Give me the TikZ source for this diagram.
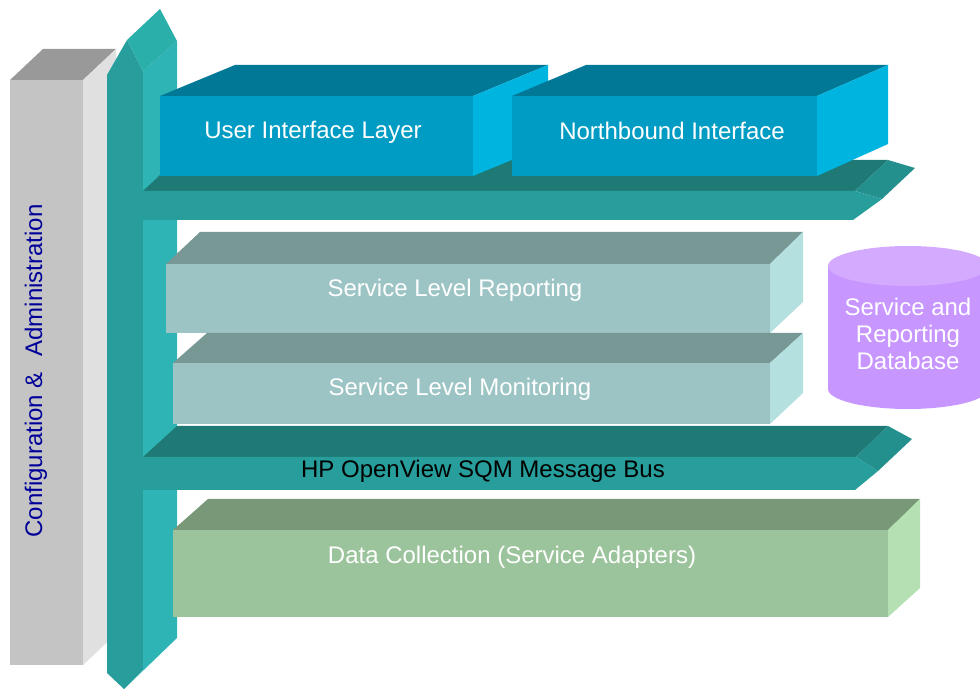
\documentclass[tikz,border=0pt]{standalone}
\usepackage{fontspec}
\setmainfont{Liberation Sans}
\definecolor{cfgfront}{HTML}{C4C4C4}
\definecolor{cfgtop}{HTML}{999999}
\definecolor{cfgside}{HTML}{E0E0E0}
\definecolor{cfgtext}{HTML}{000099}
\definecolor{barfront}{HTML}{279E9B}
\definecolor{barside}{HTML}{2EB4B4}
\definecolor{bartop}{HTML}{2AAFAB}
\definecolor{bustop}{HTML}{1F7A76}
\definecolor{bustip}{HTML}{24908D}
\definecolor{uifront}{HTML}{009CC4}
\definecolor{uitop}{HTML}{007896}
\definecolor{uiside}{HTML}{00B4E0}
\definecolor{slfront}{HTML}{9CC4C4}
\definecolor{sltop}{HTML}{789896}
\definecolor{slside}{HTML}{B4E0E0}
\definecolor{dcfront}{HTML}{9CC49C}
\definecolor{dctop}{HTML}{789878}
\definecolor{dcside}{HTML}{B4E0B4}
\definecolor{dbbody}{HTML}{C896FF}
\definecolor{dbtop}{HTML}{D4AAFF}
\begin{document}
\begin{tikzpicture}[x=0.5pt, y=-0.5pt,
	lbl/.style={text=white, font=\fontsize{12}{13.5}\selectfont, anchor=base, inner sep=0pt},
	cfglbl/.style={lbl, text=cfgtext, rotate=90}]
		\useasboundingbox (0,0) rectangle (980,689);
		\fill[cfgfront] (10,80) rectangle (83,665);
		\fill[cfgtop] (10,80) -- (43,49) -- (116,49) -- (83,80) -- cycle;
		\fill[cfgside] (83,80) -- (116,49) -- (116,634) -- (83,665) -- cycle;
		\node[cfglbl] (cfg) at (42,371) {Configuration \&\hspace{0.65em}Administration};
		\fill[barfront] (107,75) -- (127,40) -- (143,71) -- (143,670) -- (124,689) -- (107,673) -- cycle;
		\fill[barside] (143,71) -- (177,41) -- (177,638) -- (124,689) -- (143,670) -- cycle;
		\fill[bartop] (127,40) -- (160,9) -- (177,41) -- (143,71) -- cycle;
		\fill[bustop] (143,191) -- (176,160) -- (888,160) -- (855,191) -- cycle;
		\fill[bustip] (855,191) -- (888,160) -- (915,168) -- (882,199) -- cycle;
		\fill[barfront] (107,191) -- (855,191) -- (882,199) -- (853,220) -- (107,220) -- cycle;
		\fill[uitop] (160,96) -- (235,65) -- (548,65) -- (473,96) -- cycle;
		\fill[uiside] (473,96) -- (548,65) -- (548,145) -- (473,176) -- cycle;
		\fill[uifront] (160,96) rectangle (473,176);
		\node[lbl] (ui) at (313,139) {User Interface Layer};
		\fill[uitop] (512,96) -- (586,65) -- (888,65) -- (817,96) -- cycle;
		\fill[uiside] (817,96) -- (888,65) -- (888,144) -- (817,176) -- cycle;
		\fill[uifront] (512,96) rectangle (817,176);
		\node[lbl] (nb) at (672,140) {Northbound Interface};
		\fill[sltop] (166,264) -- (200,232) -- (803,232) -- (770,264) -- cycle;
		\fill[slside] (770,264) -- (803,232) -- (803,302) -- (770,333) -- cycle;
		\fill[slfront] (166,264) rectangle (770,333);
		\node[lbl] (slr) at (455,297) {Service Level Reporting};
		\fill[sltop] (173,363) -- (207,333) -- (803,333) -- (770,363) -- cycle;
		\fill[slside] (770,363) -- (803,333) -- (803,393) -- (770,424) -- cycle;
		\fill[slfront] (173,363) rectangle (770,424);
		\node[lbl] (slm) at (460,396) {Service Level Monitoring};
		\fill[bustop] (143,457) -- (177,426) -- (888,426) -- (856,457) -- cycle;
		\fill[bustip] (856,457) -- (888,426) -- (912,439) -- (878,471) -- cycle;
		\fill[barfront] (107,457) -- (856,457) -- (878,471) -- (855,490) -- (107,490) -- cycle;
		\node[lbl, text=black] (bus) at (483,478) {HP OpenView SQM Message Bus};
		\fill[dctop] (173,530) -- (208,499) -- (920,499) -- (888,530) -- cycle;
		\fill[dcside] (888,530) -- (920,499) -- (920,588) -- (888,617) -- cycle;
		\fill[dcfront] (173,530) rectangle (888,617);
		\node[lbl] (dc) at (512,563) {Data Collection (Service Adapters)};
		\fill[dbbody] (828,266) rectangle (988,389);
		\fill[dbbody] (908,389) ellipse [x radius=80, y radius=20];
		\fill[dbtop] (908,266) ellipse [x radius=80, y radius=20];
		\node[lbl, anchor=center, align=center] (db) at (908,334) {Service and\\Reporting\\Database};
	\end{tikzpicture}
\end{document}
